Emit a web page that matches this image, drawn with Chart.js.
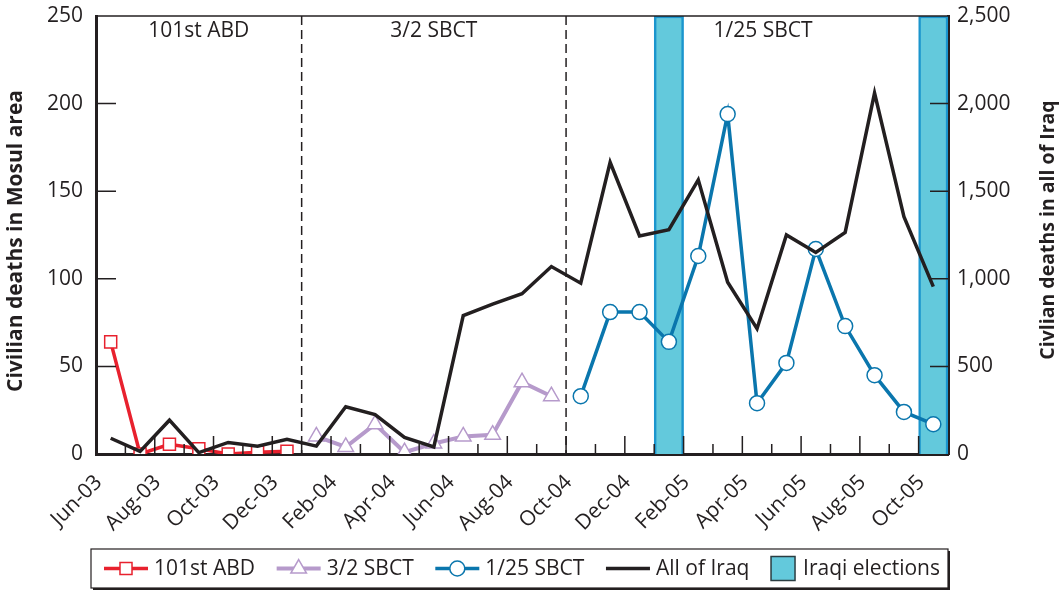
<!DOCTYPE html>
<html>
<head>
<meta charset="utf-8">
<script src="https://cdn.jsdelivr.net/npm/chart.js@4.4.1/dist/chart.umd.min.js"></script>
<style>
  html, body { margin: 0; background: #fff; }
  #wrap { width: 1063px; height: 590px; }
</style>
</head>
<body>
<div id="wrap"><canvas id="c"></canvas></div>
<script>
// months on the x axis, Jun-03 .. Oct-05
const months = ['Jun-03','Jul-03','Aug-03','Sep-03','Oct-03','Nov-03','Dec-03',
  'Jan-04','Feb-04','Mar-04','Apr-04','May-04','Jun-04','Jul-04','Aug-04','Sep-04','Oct-04','Nov-04','Dec-04',
  'Jan-05','Feb-05','Mar-05','Apr-05','May-05','Jun-05','Jul-05','Aug-05','Sep-05','Oct-05'];

// civilian deaths in Mosul area, by unit (left axis)
const abd101 = [64, 0, 5.5, 3, 0, 1, 1.5];                           // Jun-03 .. Dec-03
const sbct32 = [10, 4, 17, 1, 6, 10, 11, 41, 33];                     // Jan-04 .. Sep-04
const sbct125 = [33, 81, 81, 64, 113, 194, 29, 52, 117, 73, 45, 24, 17]; // Oct-04 .. Oct-05

// civilian deaths in all of Iraq (right axis)
const allIraq = [90, 15, 193, 8, 66, 45, 84, 45, 270, 225, 95, 40, 790, 855, 915,
  1070, 975, 1665, 1245, 1280, 1565, 980, 715, 1250, 1150, 1265, 2060, 1355, 955];

const electionMonths = ['Jan-05', 'Oct-05'];
const sectionNames = ['101st ABD', '3/2 SBCT', '1/25 SBCT'];
const sectionStarts = ['Jun-03', 'Jan-04', 'Oct-04'];

const INK = '#231F20';
const FONT = "'Open Sans', 'Noto Sans', sans-serif";

function place(values, startMonth) {
  const out = months.map(() => null);
  const s = months.indexOf(startMonth);
  values.forEach((v, i) => { out[s + i] = v; });
  return out;
}
const bandData = months.map(m => electionMonths.includes(m) ? 1 : null);

const decor = {
  id: 'decor',
  beforeDatasetsDraw(chart) {
    const { ctx, chartArea: a, scales: { x } } = chart;
    const half = (x.getPixelForValue(1) - x.getPixelForValue(0)) / 2;
    const edges = sectionStarts.map(m => x.getPixelForValue(months.indexOf(m)) - half);
    edges.push(a.right);
    ctx.save();
    ctx.strokeStyle = INK;
    ctx.lineWidth = 1.5;
    ctx.setLineDash([9, 5]);
    edges.slice(1, -1).forEach(px => {
      ctx.beginPath(); ctx.moveTo(px, a.top); ctx.lineTo(px, a.bottom); ctx.stroke();
    });
    ctx.setLineDash([]);
    ctx.fillStyle = INK;
    ctx.font = '21px ' + FONT;
    ctx.textAlign = 'center';
    ctx.textBaseline = 'middle';
    sectionNames.forEach((n, i) => ctx.fillText(n, (edges[i] + edges[i + 1]) / 2 + (i === 2 ? 6 : 0), a.top + 15));
    ctx.restore();
  },
  afterDraw(chart) {
    const { ctx, chartArea: a, scales: { x, y, y2 } } = chart;
    const half = (x.getPixelForValue(1) - x.getPixelForValue(0)) / 2;
    ctx.save();
    ctx.setLineDash([]);
    // inward tick marks along the frame
    ctx.strokeStyle = INK;
    ctx.lineWidth = 1.5;
    ctx.beginPath();
    for (let k = 1; k < months.length; k++) {
      const px = x.getPixelForValue(k) - half;
      const len = k % 2 === 0 ? 18 : 10;
      ctx.moveTo(px, a.bottom);
      ctx.lineTo(px, a.bottom - len);
    }
    [50, 100, 150, 200].forEach(v => {
      const py = y.getPixelForValue(v);
      ctx.moveTo(a.left, py);
      ctx.lineTo(a.left + 20, py);
    });
    [500, 1000, 1500, 2000].forEach(v => {
      const py = y2.getPixelForValue(v);
      ctx.moveTo(a.right - 18, py);
      ctx.lineTo(a.right, py);
    });
    ctx.stroke();

    // top frame line
    ctx.beginPath(); ctx.moveTo(a.left, a.top); ctx.lineTo(a.right, a.top); ctx.stroke();

    // axis titles
    ctx.fillStyle = INK;
    ctx.textAlign = 'center';
    ctx.textBaseline = 'middle';
    const mid = (a.top + a.bottom) / 2;
    ctx.font = 'bold 21px ' + FONT;
    ctx.save(); ctx.translate(16, mid + 6); ctx.rotate(-Math.PI / 2);
    ctx.fillText('Civilian deaths in Mosul area', 0, 0); ctx.restore();
    ctx.font = 'bold 19.5px ' + FONT;
    ctx.save(); ctx.translate(1048, mid - 5); ctx.rotate(-Math.PI / 2);
    ctx.fillText('Civlian deaths in all of Iraq', 0, 0); ctx.restore();

    // legend box with drop shadow
    const bx = a.left - 5, by = 549, bw = a.right - bx, bh = 39;
    ctx.fillStyle = INK;
    ctx.fillRect(bx + 2, by + 2, bw, bh);
    ctx.fillStyle = '#fff';
    ctx.fillRect(bx, by, bw, bh);
    ctx.lineWidth = 1.2;
    ctx.strokeRect(bx, by, bw, bh);

    const cy = by + bh / 2;
    ctx.font = '21px ' + FONT;
    ctx.textAlign = 'left';
    const order = [1, 2, 3, 0, 4];
    const items = order.map(i => {
      const ds = chart.data.datasets[i];
      const icon = ds.type === 'bar' ? 32 : 50;
      return { ds, icon, w: icon + ctx.measureText(ds.label).width };
    });
    const used = items.reduce((s, it) => s + it.w, 0);
    const gap = (bw - 13 - 8 - used) / (items.length - 1);
    let cx = bx + 13;
    items.forEach(({ ds, icon, w }) => {
      if (ds.type === 'bar') {
        ctx.fillStyle = ds.backgroundColor;
        ctx.fillRect(cx, cy - 12, 24, 24);
        ctx.lineWidth = 1.5; ctx.strokeStyle = '#2b3d42';
        ctx.strokeRect(cx, cy - 12, 24, 24);
      } else {
        ctx.strokeStyle = ds.borderColor;
        ctx.lineWidth = ds.borderWidth;
        ctx.beginPath(); ctx.moveTo(cx, cy); ctx.lineTo(cx + 44, cy); ctx.stroke();
        if (ds.pointRadius > 0) {
          ctx.fillStyle = ds.pointBackgroundColor;
          ctx.strokeStyle = ds.pointBorderColor;
          ctx.lineWidth = ds.pointBorderWidth;
          Chart.helpers.drawPoint(ctx, { pointStyle: ds.pointStyle, radius: ds.pointRadius, rotation: 0, borderWidth: ds.pointBorderWidth }, cx + 22, cy);
        }
      }
      ctx.fillStyle = INK;
      ctx.fillText(ds.label, cx + icon, cy + 1);
      cx += w + gap;
    });
    ctx.restore();
  }
};

const lineBase = { type: 'line', spanGaps: false, tension: 0, pointHoverRadius: 0 };
const noPad = s => { s.paddingTop = 0; s.paddingBottom = 0; };

new Chart(document.getElementById('c'), {
  data: {
    labels: months,
    datasets: [
      { ...lineBase, label: 'All of Iraq', data: allIraq, yAxisID: 'y2', order: 0,
        borderColor: INK, borderWidth: 3.5, pointRadius: 0, borderJoinStyle: 'miter' },
      { ...lineBase, label: '101st ABD', data: place(abd101, 'Jun-03'), yAxisID: 'y', order: 1,
        borderColor: '#E8212E', borderWidth: 3.5, pointStyle: 'rect', pointRadius: 8.5,
        pointBackgroundColor: '#fff', pointBorderColor: '#E8212E', pointBorderWidth: 1.5 },
      { ...lineBase, label: '3/2 SBCT', data: place(sbct32, 'Jan-04'), yAxisID: 'y', order: 2,
        borderColor: '#B69ACB', borderWidth: 4, pointStyle: 'triangle', pointRadius: 9,
        pointBackgroundColor: '#fff', pointBorderColor: '#B69ACB', pointBorderWidth: 1.5 },
      { ...lineBase, label: '1/25 SBCT', data: place(sbct125, 'Oct-04'), yAxisID: 'y', order: 3,
        borderColor: '#0A76AD', borderWidth: 3.5, pointStyle: 'circle', pointRadius: 7.5,
        pointBackgroundColor: '#fff', pointBorderColor: '#0A76AD', pointBorderWidth: 1.5 },
      { type: 'bar', label: 'Iraqi elections', data: bandData, yAxisID: 'yb', order: 10,
        backgroundColor: '#63C9DC', borderColor: '#1B95CD',
        borderWidth: { left: 2.5, right: 2.5, top: 2.5, bottom: 0 }, borderSkipped: false,
        barPercentage: 1, categoryPercentage: 1 }
    ]
  },
  options: {
    responsive: true,
    maintainAspectRatio: false,
    animation: false,
    layout: { padding: { top: 16, left: 0, right: 0, bottom: 0 } },
    plugins: { legend: { display: false }, tooltip: { enabled: false } },
    scales: {
      x: {
        offset: true,
        grid: { display: false, drawTicks: false },
        border: { display: true, width: 3, color: INK },
        afterFit: s => { s.height = 136; s.paddingLeft = 0; s.paddingRight = 0; },
        ticks: {
          autoSkip: false, minRotation: 45, maxRotation: 45,
          labelOffset: -12, padding: 16, color: INK,
          font: { family: FONT, size: 21 },
          callback: (v, i) => i % 2 === 0 ? months[i] : ''
        }
      },
      y: {
        position: 'left', min: 0, max: 250,
        grid: { display: false, drawTicks: false },
        border: { display: true, width: 3, color: INK },
        afterFit: s => { s.width = 96; noPad(s); },
        ticks: { stepSize: 50, padding: 13, color: INK, font: { family: FONT, size: 21 } }
      },
      y2: {
        position: 'right', min: 0, max: 2500,
        grid: { display: false, drawTicks: false },
        border: { display: true, width: 3, color: INK },
        afterFit: s => { s.width = 115; noPad(s); },
        ticks: { stepSize: 500, padding: 9, color: INK, font: { family: FONT, size: 21 },
          callback: v => v.toLocaleString('en-US') }
      },
      yb: { display: false, min: 0, max: 1 }
    }
  },
  plugins: [decor]
});
</script>
</body>
</html>
